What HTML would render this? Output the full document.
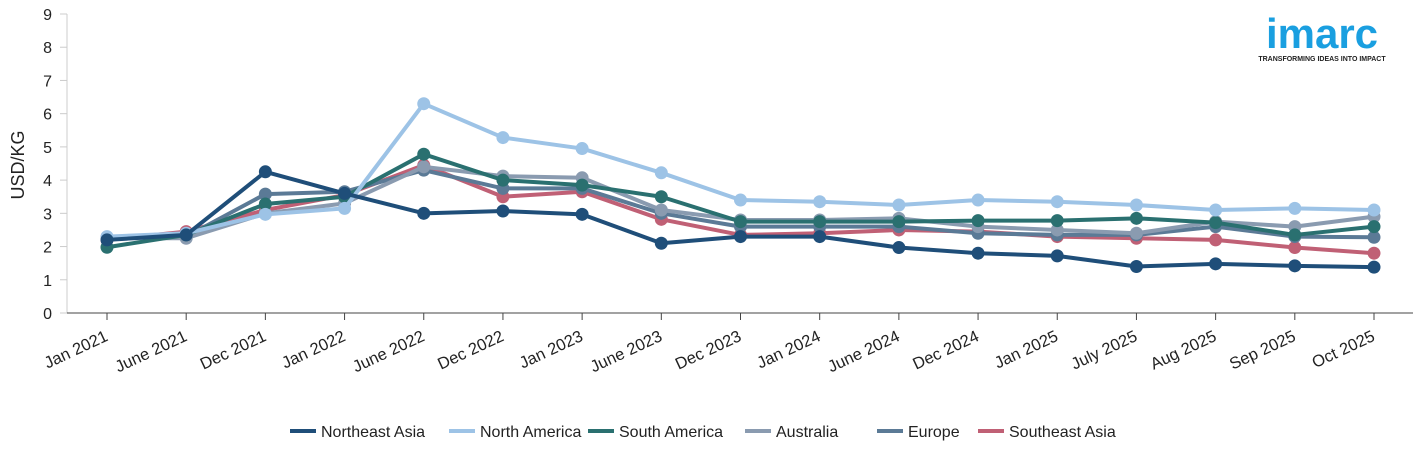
<!DOCTYPE html>
<html><head><meta charset="utf-8"><style>
body{margin:0;background:#fff;font-family:"Liberation Sans",Arial,sans-serif;}
svg text{font-family:"Liberation Sans",Arial,sans-serif;}
</style></head><body>
<svg id="chart" width="1425" height="455" xmlns="http://www.w3.org/2000/svg">
<g>
<text x="1322" y="48" text-anchor="middle" font-size="42" font-weight="bold" fill="#1a9fe0">imarc</text>
<text x="1322" y="61" text-anchor="middle" font-size="7" font-weight="bold" fill="#222">TRANSFORMING IDEAS INTO IMPACT</text>
</g>
<g id="axes"></g><g id="series"></g><g id="legend"></g>
</svg>
<script>
const categories=["Jan 2021","June 2021","Dec 2021","Jan 2022","June 2022","Dec 2022","Jan 2023","June 2023","Dec 2023","Jan 2024","June 2024","Dec 2024","Jan 2025","July 2025","Aug 2025","Sep 2025","Oct 2025"];
const yTicks=[0,1,2,3,4,5,6,7,8,9];
const seriesNames=["Northeast Asia","North America","South America","Australia","Europe","Southeast Asia"];
const seriesColors=["#1f4e79","#9dc3e6","#2a7070","#8a9bb0","#5b7a96","#c06075"];
const northeastAsia=[2.2,2.35,4.25,3.6,3.0,3.07,2.97,2.1,2.3,2.3,1.97,1.8,1.72,1.4,1.48,1.42,1.38];
const northAmerica=[2.3,2.4,2.97,3.15,6.3,5.28,4.95,4.22,3.4,3.35,3.25,3.4,3.35,3.25,3.1,3.15,3.1];
const southAmerica=[1.98,2.35,3.28,3.5,4.78,4.0,3.85,3.5,2.75,2.75,2.75,2.78,2.78,2.85,2.72,2.35,2.6];
const australia=[2.25,2.25,3.0,3.3,4.4,4.12,4.07,3.1,2.8,2.8,2.85,2.6,2.5,2.4,2.75,2.6,2.9];
const europe=[2.25,2.3,3.58,3.65,4.3,3.75,3.75,3.0,2.6,2.6,2.6,2.4,2.35,2.35,2.6,2.3,2.28];
const southeastAsia=[2.2,2.45,3.1,3.55,4.45,3.5,3.65,2.82,2.35,2.4,2.5,2.45,2.3,2.25,2.2,1.97,1.8];
const seriesData=[northeastAsia,northAmerica,southAmerica,australia,europe,southeastAsia];
const NS="http://www.w3.org/2000/svg";
const X0=107,X1=1374,Y0=313,Y1=14;
const xS=i=>X0+i*(X1-X0)/(categories.length-1);
const yS=v=>Y0-(v/9)*(Y0-Y1);
function mk(t,a,p){const e=document.createElementNS(NS,t);for(const k in a)e.setAttribute(k,a[k]);p.appendChild(e);return e;}
const ax=document.getElementById('axes');
let l=mk('line',{x1:67,y1:14,x2:67,y2:313,stroke:'#ccc'},ax);


l=mk('line',{x1:67,y1:313,x2:1413,y2:313,stroke:'#444'},ax);


yTicks.forEach(v=>{
 mk('line',{x1:60,x2:67,y1:yS(v),y2:yS(v),stroke:'#ccc'},ax);
 const t=mk('text',{x:52,y:yS(v)+6,'text-anchor':'end','font-size':16,fill:'#222'},ax);t.textContent=v;
 
 
});
const yt=mk('text',{x:24,y:165,'text-anchor':'middle','font-size':18,fill:'#222',transform:'rotate(-90 24 165)'},ax);yt.textContent='USD/KG';


categories.forEach((c,i)=>{
 const x=xS(i);
 mk('line',{x1:x,x2:x,y1:313,y2:320,stroke:'#444'},ax);
 const t=mk('text',{x:x+2,y:340,'text-anchor':'end','font-size':16.5,fill:'#222',transform:`rotate(-25 ${x+2} 340)`},ax);t.textContent=c;
 
 
});
const sg=document.getElementById('series');
for(let s=seriesData.length-1;s>=0;s--){
 const g=mk('g',{},sg);
 
 
 const d=seriesData[s];
 mk('polyline',{points:d.map((v,i)=>xS(i)+','+yS(v)).join(' '),fill:'none',stroke:seriesColors[s],'stroke-width':4,'stroke-linejoin':'round'},g);
 d.forEach((v,i)=>{const c=mk('circle',{cx:xS(i),cy:yS(v),r:6.5,fill:seriesColors[s]},g);
  
  });
}
const lg=document.getElementById('legend');
const lx=[290,449,588,745,877,978];
seriesNames.forEach((n,i)=>{
 const g=mk('g',{},lg);
 
 
 mk('line',{x1:lx[i],x2:lx[i]+26,y1:431,y2:431,stroke:seriesColors[i],'stroke-width':4},g);
 const t=mk('text',{x:lx[i]+31,y:437,'font-size':16,fill:'#222'},g);t.textContent=n;
});
</script>
</body></html>
